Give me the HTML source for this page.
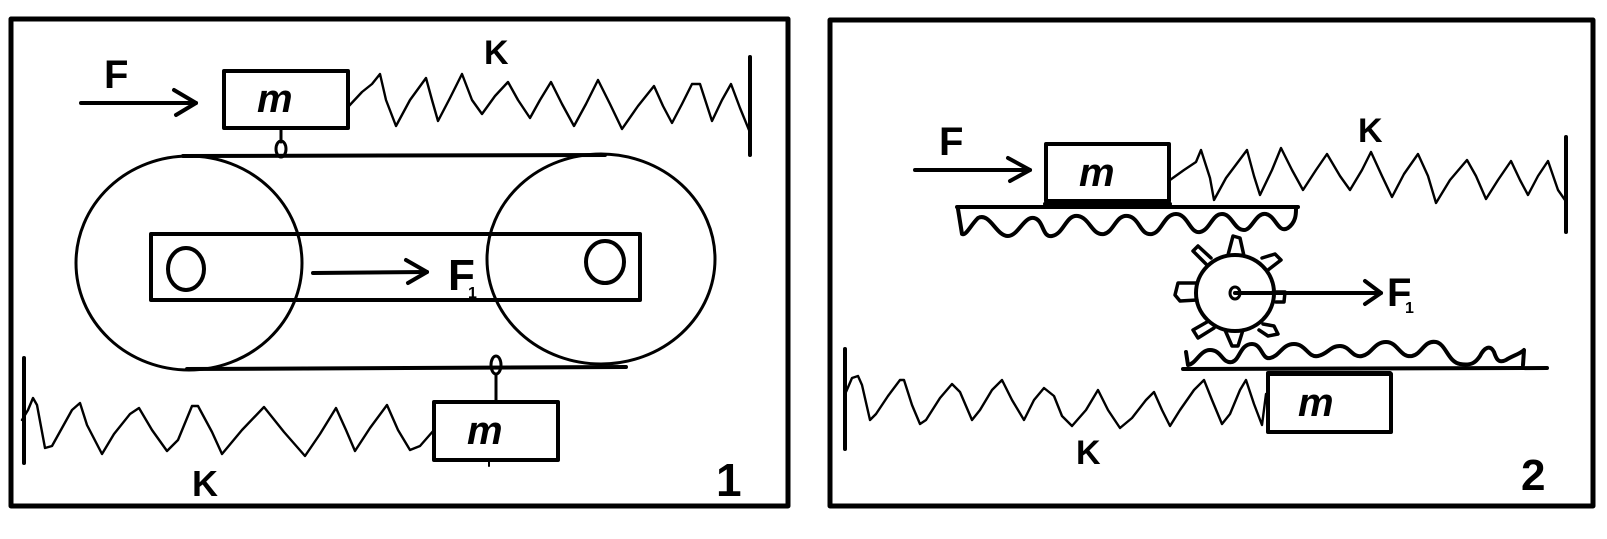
<!DOCTYPE html>
<html><head><meta charset="utf-8"><style>
html,body{margin:0;padding:0;background:#fff;}
svg{display:block;}
text{font-family:"Liberation Sans",sans-serif;fill:#000;}
</style></head><body>
<svg width="1607" height="539" viewBox="0 0 1607 539" xmlns="http://www.w3.org/2000/svg">
<rect width="1607" height="539" fill="#fff"/>
<g fill="none" stroke="#000" stroke-linejoin="round" stroke-linecap="round">
<rect x="11" y="19" width="777" height="487" stroke-width="5"/>
<line x1="81" y1="103" x2="196" y2="103" stroke-width="4"/>
<polyline points="174,90 196,103 176,115" stroke-width="4"/>
<rect x="224" y="71" width="124" height="57" stroke-width="4"/>
<polyline stroke-width="2.4" points="348,107 362,92 372,84 380,74 386,100 396,126 410,100 426,78 432,100 438,121 450,98 462,74 472,100 482,114 495,96 508,82 518,100 530,118 540,100 551,82 562,104 574,126 586,104 598,80 610,104 622,129 638,106 654,86 663,106 672,123 682,104 692,84 700,84 712,121 722,100 731,84 740,108 749,130"/>
<line x1="750" y1="57" x2="750" y2="155" stroke-width="4"/>
<line x1="281" y1="128" x2="281" y2="142" stroke-width="3"/>
<ellipse cx="281" cy="149" rx="5" ry="8" stroke-width="3"/>
<ellipse cx="189" cy="263" rx="113" ry="107" stroke-width="3"/>
<ellipse cx="601" cy="259" rx="114" ry="105" stroke-width="3"/>
<line x1="183" y1="156" x2="605" y2="155" stroke-width="4"/>
<line x1="187" y1="369" x2="626" y2="367" stroke-width="4"/>
<rect x="151" y="234" width="489" height="66" stroke-width="4"/>
<ellipse cx="186" cy="269" rx="18" ry="21" stroke-width="4"/>
<ellipse cx="605" cy="262" rx="19" ry="21" stroke-width="4"/>
<line x1="313" y1="273" x2="427" y2="272" stroke-width="4"/>
<polyline points="406,260 427,272 408,283" stroke-width="4"/>
<ellipse cx="496" cy="365" rx="5" ry="9" stroke-width="3"/>
<line x1="496" y1="374" x2="496" y2="402" stroke-width="3"/>
<rect x="434" y="402" width="124" height="58" stroke-width="4"/>
<line x1="489" y1="460" x2="489" y2="466" stroke-width="2"/>
<line x1="24" y1="358" x2="24" y2="463" stroke-width="4"/>
<polyline stroke-width="2.4" points="22,420 28,410 33,398 37,405 45,448 52,446 62,428 72,410 80,403 87,425 102,454 114,434 130,414 139,408 152,430 167,451 178,440 192,406 198,406 212,432 222,454 242,430 264,407 284,432 305,456 320,434 336,408 346,430 355,451 370,428 387,405 398,430 410,450 420,446 434,430"/>
</g>
<text x="104" y="88" font-size="40" font-weight="bold">F</text>
<text x="484" y="64" font-size="34" font-weight="bold">K</text>
<text x="257" y="112" font-size="40" font-weight="bold" font-style="italic" font-family="Liberation Serif,serif">m</text>
<text x="467" y="444" font-size="40" font-weight="bold" font-style="italic" font-family="Liberation Serif,serif">m</text>
<text x="448" y="290" font-size="44" font-weight="bold">F</text>
<text x="468" y="298" font-size="16" font-weight="bold">1</text>
<text x="192" y="496" font-size="36" font-weight="bold">K</text>
<text x="716" y="496" font-size="46" font-weight="bold">1</text>

<g fill="none" stroke="#000" stroke-linejoin="round" stroke-linecap="round">
<rect x="830" y="20" width="763" height="486" stroke-width="5"/>
<line x1="915" y1="170" x2="1030" y2="170" stroke-width="4"/>
<polyline points="1008,158 1030,170 1010,181" stroke-width="4"/>
<rect x="1046" y="144" width="123" height="57" stroke-width="4"/>
<line x1="957" y1="207" x2="1298" y2="207" stroke-width="4"/>
<line x1="1045" y1="204" x2="1170" y2="204" stroke-width="4"/>
<path stroke-width="4" d="M958,209 L962,234 C966,236 970,226 978,218 C990,212 996,236 1008,236 C1018,236 1024,216 1034,218 C1044,220 1042,238 1052,236 C1064,234 1066,214 1078,216 C1090,218 1092,236 1104,234 C1114,232 1116,214 1128,216 C1140,218 1140,236 1152,234 C1162,232 1164,214 1176,214 C1188,214 1190,234 1200,232 C1210,230 1212,214 1222,214 C1232,214 1234,230 1244,230 C1252,230 1256,212 1266,214 C1276,216 1278,234 1288,228 C1296,222 1296,214 1296,209"/>
<polyline stroke-width="2.4" points="1170,180 1184,170 1196,162 1201,150 1210,178 1214,200 1226,178 1247,150 1254,176 1260,195 1272,170 1281,148 1292,170 1303,190 1316,170 1327,154 1340,176 1350,190 1362,170 1371,152 1382,176 1392,197 1404,174 1418,154 1428,176 1436,203 1450,180 1467,160 1476,176 1486,199 1498,180 1511,161 1520,180 1528,195 1538,176 1548,161 1558,190 1565,200"/>
<line x1="1566" y1="137" x2="1566" y2="232" stroke-width="4"/>
<ellipse cx="1235" cy="293" rx="39" ry="38" stroke-width="4"/>
<ellipse cx="1235" cy="293" rx="5" ry="6" stroke-width="3"/>
<path stroke-width="3.5" d="M1228,255 L1233,236 L1240,238 L1244,256"/>
<path stroke-width="3.5" d="M1206,264 L1193,251 L1198,246 L1211,258"/>
<path stroke-width="3.5" d="M1262,258 L1275,254 L1281,260 L1268,270"/>
<path stroke-width="3.5" d="M1197,283 L1178,283 L1175,295 L1180,301 L1197,300"/>
<path stroke-width="3.5" d="M1273,292 L1285,292 L1284,302 L1276,302"/>
<path stroke-width="3.5" d="M1207,322 L1193,330 L1198,338 L1214,328"/>
<path stroke-width="3.5" d="M1263,324 L1274,326 L1278,334 L1268,336 L1259,330"/>
<path stroke-width="3.5" d="M1225,330 L1232,346 L1238,346 L1243,330"/>
<line x1="1235" y1="293" x2="1381" y2="293" stroke-width="4"/>
<polyline points="1365,281 1381,293 1365,304" stroke-width="4"/>
<line x1="1183" y1="369" x2="1547" y2="368" stroke-width="4"/>
<line x1="1268" y1="373" x2="1390" y2="373" stroke-width="4"/>
<path stroke-width="4" d="M1186,352 L1188,365 C1196,364 1200,350 1210,350 C1222,350 1222,364 1232,362 C1240,360 1240,344 1252,344 C1262,344 1262,360 1270,358 C1280,356 1282,344 1294,344 C1306,344 1308,358 1318,356 C1328,354 1330,346 1340,346 C1350,346 1352,358 1362,356 C1372,354 1374,342 1386,342 C1398,342 1400,358 1412,356 C1422,354 1424,340 1436,342 C1446,344 1448,362 1460,364 C1472,366 1476,362 1480,356 C1484,348 1490,344 1494,352 C1496,358 1498,364 1506,360 C1512,356 1520,354 1524,350 L1523,365"/>
<rect x="1268" y="374" width="123" height="58" stroke-width="4"/>
<line x1="845" y1="349" x2="845" y2="449" stroke-width="4"/>
<polyline stroke-width="2.4" points="846,392 852,378 858,376 862,385 870,420 876,414 888,396 900,380 904,380 912,405 920,424 926,420 940,398 952,384 960,392 972,420 980,410 992,390 1002,380 1012,400 1024,420 1034,400 1044,388 1054,396 1062,416 1072,426 1086,410 1098,390 1108,410 1120,428 1132,418 1146,400 1154,392 1162,410 1170,426 1180,410 1194,390 1204,380 1212,400 1222,424 1230,414 1240,390 1246,380 1254,404 1262,425 1266,394"/>
</g>
<text x="939" y="155" font-size="40" font-weight="bold">F</text>
<text x="1358" y="142" font-size="34" font-weight="bold">K</text>
<text x="1079" y="186" font-size="40" font-weight="bold" font-style="italic" font-family="Liberation Serif,serif">m</text>
<text x="1298" y="416" font-size="40" font-weight="bold" font-style="italic" font-family="Liberation Serif,serif">m</text>
<text x="1387" y="306" font-size="40" font-weight="bold">F</text>
<text x="1405" y="313" font-size="16" font-weight="bold">1</text>
<text x="1076" y="464" font-size="34" font-weight="bold">K</text>
<text x="1521" y="490" font-size="44" font-weight="bold">2</text>
</svg>
</body></html>
